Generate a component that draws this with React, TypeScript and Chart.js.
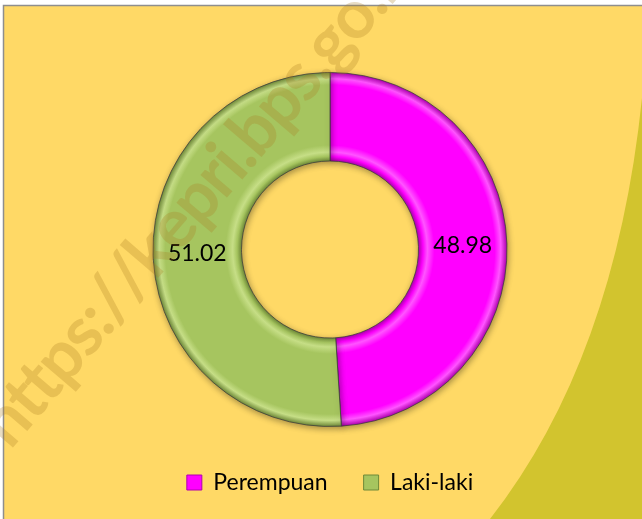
import { useEffect, useRef } from "react";
import { Chart, registerables } from "chart.js";

Chart.register(...registerables);

// ---- data ----
const categories = ["Perempuan", "Laki-laki"];
const values = [48.98, 51.02];
const valueLabels = ["48.98", "51.02"];
const baseColors = ["#FF00FF", "#A6C55F"];
const edgeColors = ["#B000B0", "#6F8A38"];
const lightColors = ["#FF55FF", "#C6DE86"];
const watermarkText = "https://kepri.bps.go.id";

// ---- style constants ----
const W = 642;
const H = 519;
const OUTER_R = 177;
const CUTOUT = 0.5;
const BG = "#FFD966";
const OLIVE = "#D2C42E";
const FONT = '"Lato", "Noto Sans", "DejaVu Sans", sans-serif';

function segFill(ctx: any) {
  const i = ctx.dataIndex ?? 0;
  const chart = ctx.chart;
  const area = chart.chartArea;
  if (!area) return baseColors[i];
  const cx = (area.left + area.right) / 2;
  const cy = (area.top + area.bottom) / 2;
  const inner = OUTER_R * CUTOUT;
  const g = chart.ctx.createRadialGradient(cx, cy, inner, cx, cy, OUTER_R);
  g.addColorStop(0, edgeColors[i]);
  g.addColorStop(0.05, baseColors[i]);
  g.addColorStop(0.1, lightColors[i]);
  g.addColorStop(0.18, baseColors[i]);
  g.addColorStop(0.86, baseColors[i]);
  g.addColorStop(0.93, lightColors[i]);
  g.addColorStop(1, edgeColors[i]);
  return g;
}

const backgroundPlugin = {
  id: "bgDecor",
  beforeDraw(chart: any) {
    const c = chart.ctx;
    c.save();
    c.fillStyle = "#FFFFFF";
    c.fillRect(0, 0, W, H);
    c.fillStyle = BG;
    c.fillRect(3, 5, W - 3, H - 5);
    // olive curved region at the right
    c.beginPath();
    c.moveTo(W, 98);
    c.quadraticCurveTo(615, 359, 490, H);
    c.lineTo(W, H);
    c.closePath();
    c.fillStyle = OLIVE;
    c.fill();
    // frame border
    c.strokeStyle = "#8E8E8E";
    c.lineWidth = 1.5;
    c.beginPath();
    c.moveTo(3.5, H);
    c.lineTo(3.5, 5.5);
    c.lineTo(W, 5.5);
    c.stroke();
    c.restore();
  },
};

const shadowAndLabelsPlugin = {
  id: "shadowLabels",
  beforeDatasetsDraw(chart: any) {
    const c = chart.ctx;
    c.save();
    c.shadowColor = "rgba(0,0,0,0.35)";
    c.shadowBlur = 6;
    c.shadowOffsetX = 1;
    c.shadowOffsetY = 2;
  },
  afterDatasetsDraw(chart: any) {
    const c = chart.ctx;
    c.restore();
    const meta = chart.getDatasetMeta(0);
    c.save();
    c.font = `23px ${FONT}`;
    c.fillStyle = "#000000";
    c.textAlign = "center";
    c.textBaseline = "middle";
    meta.data.forEach((arc: any, i: number) => {
      const p = arc.getCenterPoint();
      c.fillText(valueLabels[i], p.x, p.y);
    });
    c.restore();
  },
};

const watermarkPlugin = {
  id: "watermark",
  afterDraw(chart: any) {
    const c = chart.ctx;
    c.save();
    const A = { x: 6, y: 422 }; // centre of the leading "h"
    const B = { x: 355, y: 14 }; // centre of the "." after "go"
    const size = 68;
    c.font = `bold ${size}px ${FONT}`;
    const base = c.measureText("h").width / 2;
    const upto = c.measureText("https://kepri.bps.go").width + c.measureText(".").width / 2;
    const dist = Math.hypot(B.x - A.x, B.y - A.y);
    const gaps = 20;
    const ls = (dist - (upto - base)) / gaps;
    const theta = Math.atan2(B.y - A.y, B.x - A.x);
    const ox = A.x - Math.cos(theta) * base;
    const oy = A.y - Math.sin(theta) * base;
    c.translate(ox, oy);
    c.rotate(theta);
    c.fillStyle = "rgba(170,125,35,0.27)";
    c.textAlign = "left";
    c.textBaseline = "middle";
    let x = 0;
    for (const ch of watermarkText) {
      c.fillText(ch, x, 0);
      x += c.measureText(ch).width + ls;
    }
    c.restore();
  },
};

export default function App() {
  const ref = useRef<HTMLCanvasElement | null>(null);
  useEffect(() => {
    if (!ref.current) return;
    const chart = new Chart(ref.current, {
      type: "doughnut",
      data: {
        labels: categories,
        datasets: [
          {
            data: values,
            backgroundColor: segFill as any,
            borderColor: "rgba(60,60,60,0.75)",
            borderWidth: 1,
            radius: OUTER_R,
            cutout: `${CUTOUT * 100}%`,
          } as any,
        ],
      },
      options: {
        responsive: false,
        animation: false,
        layout: { padding: { top: 64, bottom: 15, left: 18, right: 0 } },
        plugins: {
          tooltip: { enabled: false },
          legend: {
            position: "bottom",
            labels: {
              color: "#000000",
              font: { size: 23, family: FONT },
              boxWidth: 15,
              boxHeight: 15,
              padding: 36,
              generateLabels: () =>
                categories.map((c, i) => ({
                  text: c,
                  fillStyle: baseColors[i],
                  strokeStyle: edgeColors[i],
                  lineWidth: 1,
                  hidden: false,
                  index: i,
                  fontColor: "#000000",
                })),
            },
          },
        },
      },
      plugins: [backgroundPlugin, shadowAndLabelsPlugin, watermarkPlugin],
    });
    return () => chart.destroy();
  }, []);
  return (
    <div style={{ position: "absolute", left: 0, top: 0, width: W, height: H }}>
      <canvas ref={ref} width={W} height={H} style={{ display: "block" }} />
    </div>
  );
}
